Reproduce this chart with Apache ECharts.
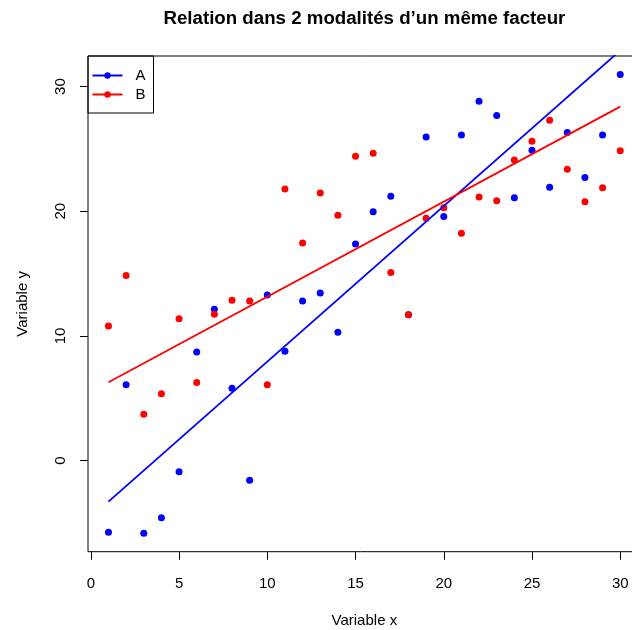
<!DOCTYPE html>
<html>
<head>
<meta charset="utf-8">
<script src="https://cdn.jsdelivr.net/npm/echarts@6/dist/echarts.min.js"></script>
<style>html,body{margin:0;padding:0;background:#fff;}#c{width:632px;height:630px;}</style>
</head>
<body>
<div id="c"></div>
<script>
// ---- data ----
const xValues = [1,2,3,4,5,6,7,8,9,10,11,12,13,14,15,16,17,18,19,20,21,22,23,24,25,26,27,28,29,30];
const yA = [-5.74, 6.09, -5.82, -4.57, -0.88, 8.72, 12.14, 5.81, -1.57, 13.29,
            8.77, 12.81, 13.45, 10.30, 17.38, 19.97, 21.20, 11.71, 25.96, 19.57,
            26.12, 28.82, 27.67, 21.09, 24.89, 21.92, 26.31, 22.70, 26.12, 30.96];
const yB = [10.80, 14.84, 3.72, 5.37, 11.39, 6.26, 11.74, 12.86, 12.81, 6.09,
            21.79, 17.45, 21.47, 19.68, 24.41, 24.65, 15.08, 11.71, 19.44, 20.29,
            18.24, 21.15, 20.85, 24.11, 25.61, 27.30, 23.37, 20.77, 21.89, 24.86];
// regression lines as drawn in the picture: x at ends, fitted y at ends
const lineX = [1, 30];
const lineA = [-3.29, 32.89];
const lineB = [6.29, 28.39];
const xTicks = [0, 5, 10, 15, 20, 25, 30];
const yTicks = [0, 10, 20, 30];
const groupNames = ['A', 'B'];
const colors = ['#0000FF', '#FF0000'];

const pts = (ys) => xValues.map((x, i) => [x, ys[i]]);
const linePts = (ys) => lineX.map((x, i) => [x, ys[i]]);
const ySets = [yA, yB];
const lineSets = [lineA, lineB];

const font = 'Liberation Sans, Arial, Helvetica, sans-serif';
const chart = echarts.init(document.getElementById('c'), null, {renderer: 'canvas'});

const series = [];
groupNames.forEach((nm, k) => {
  series.push({
    name: nm, type: 'line', data: linePts(lineSets[k]),
    symbol: 'circle', showSymbol: false, symbolSize: 7,
    lineStyle: {color: colors[k], width: 1.8}, itemStyle: {color: colors[k]},
    z: 3, clip: true, silent: true, animation: false
  });
});
groupNames.forEach((nm, k) => {
  series.push({
    name: nm, type: 'scatter', data: pts(ySets[k]),
    symbol: 'circle', symbolSize: 7,
    itemStyle: {color: colors[k], opacity: 1},
    z: 2, animation: false
  });
});

chart.setOption({
  animation: false,
  title: {
    text: 'Relation dans 2 modalités d\u2019un même facteur',
    left: 364.4, top: 9, padding: 0, textAlign: 'center',
    textStyle: {fontFamily: font, fontSize: 18.7, fontWeight: 'bold', color: '#000'}
  },
  legend: {
    orient: 'vertical', left: 88, top: 56,
    padding: [12, 8, 11, 3.5],
    itemWidth: 30, itemHeight: 8, itemGap: 4,
    borderColor: '#000', borderWidth: 1,
    textStyle: {fontFamily: font, fontSize: 15, color: '#000', padding: [0, 0, 0, 8], lineHeight: 15},
    data: groupNames
  },
  grid: {
    left: 88, top: 56, right: -8.7, bottom: 78.3,
    outerBoundsMode: 'none',
    show: true, borderColor: '#000', borderWidth: 1, containLabel: false
  },
  xAxis: {
    type: 'value', min: -0.16, max: 31.16,
    name: 'Variable x', nameLocation: 'middle', nameGap: 62,
    nameTextStyle: {fontFamily: font, fontSize: 15, color: '#000'},
    axisLine: {show: false, onZero: false},
    axisTick: {show: true, length: 8, lineStyle: {color: '#000'}, customValues: xTicks},
    axisLabel: {fontFamily: font, fontSize: 15, color: '#000', margin: 24.5, customValues: xTicks},
    splitLine: {show: false}
  },
  yAxis: {
    type: 'value', min: -7.3, max: 32.45,
    name: 'Variable y', nameLocation: 'middle', nameGap: 58, nameRotate: 90,
    nameTextStyle: {fontFamily: font, fontSize: 15, color: '#000'},
    axisLine: {show: false, onZero: false},
    axisTick: {show: true, length: 8, lineStyle: {color: '#000'}, customValues: yTicks},
    axisLabel: {fontFamily: font, fontSize: 15, color: '#000', margin: 20, rotate: 90, customValues: yTicks},
    splitLine: {show: false}
  },
  series: series
});
</script>
</body>
</html>
